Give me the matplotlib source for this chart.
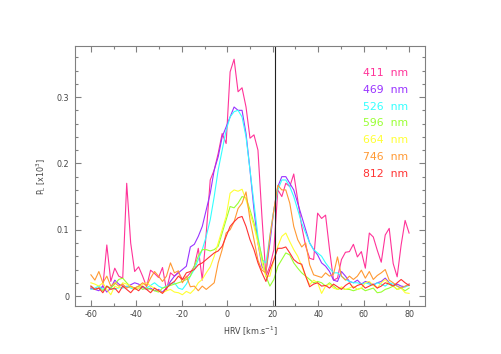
import numpy as np
import matplotlib
matplotlib.use("Agg")
import matplotlib.pyplot as plt
from matplotlib.ticker import MultipleLocator

plt.rcParams['font.family'] = ['DejaVu Sans']
plt.rcParams['axes.unicode_minus'] = False

# HRV grid (km/s)
hrv = np.linspace(-60, 80, 81)

p411 = [0.012, 0.010, 0.012, 0.014, 0.077, 0.022, 0.042, 0.030, 0.027, 0.170,
        0.080, 0.037, 0.044, 0.030, 0.014, 0.039, 0.034, 0.028, 0.043, 0.009,
        0.035, 0.030, 0.036, 0.025, 0.028, 0.035, 0.045, 0.072, 0.024, 0.095,
        0.175, 0.190, 0.215, 0.245, 0.230, 0.338, 0.357, 0.308, 0.314, 0.285,
        0.238, 0.243, 0.220, 0.120, 0.030, 0.045, 0.070, 0.160, 0.150, 0.170,
        0.165, 0.184, 0.145, 0.105, 0.075, 0.057, 0.055, 0.125, 0.117, 0.122,
        0.070, 0.024, 0.027, 0.055, 0.066, 0.067, 0.078, 0.059, 0.067, 0.042,
        0.095, 0.089, 0.069, 0.051, 0.092, 0.102, 0.049, 0.029, 0.077, 0.114,
        0.095]

p469 = [0.012, 0.010, 0.008, 0.015, 0.006, 0.012, 0.024, 0.018, 0.015, 0.014,
        0.017, 0.020, 0.018, 0.013, 0.010, 0.012, 0.008, 0.010, 0.006, 0.012,
        0.022, 0.030, 0.035, 0.040, 0.045, 0.074, 0.078, 0.090, 0.105, 0.130,
        0.155, 0.190, 0.210, 0.240, 0.255, 0.270, 0.285, 0.280, 0.280, 0.245,
        0.190, 0.130, 0.080, 0.045, 0.035, 0.080, 0.130, 0.165, 0.180, 0.180,
        0.170, 0.160, 0.140, 0.120, 0.100, 0.080, 0.070, 0.062, 0.050, 0.045,
        0.037, 0.024, 0.022, 0.037, 0.030, 0.022, 0.020, 0.024, 0.018, 0.022,
        0.020, 0.017, 0.020, 0.022, 0.027, 0.020, 0.015, 0.018, 0.015, 0.014,
        0.018]

p526 = [0.010, 0.012, 0.015, 0.010, 0.014, 0.012, 0.010, 0.013, 0.012, 0.015,
        0.012, 0.010, 0.012, 0.014, 0.012, 0.016, 0.020, 0.015, 0.012, 0.015,
        0.018, 0.020, 0.012, 0.010, 0.018, 0.030, 0.040, 0.055, 0.070, 0.090,
        0.115, 0.150, 0.190, 0.220, 0.250, 0.270, 0.278, 0.280, 0.270, 0.240,
        0.190, 0.140, 0.090, 0.055, 0.050, 0.090, 0.130, 0.160, 0.175, 0.175,
        0.165, 0.150, 0.130, 0.110, 0.095, 0.080, 0.070, 0.065, 0.060, 0.050,
        0.042, 0.035, 0.035, 0.030, 0.025, 0.022, 0.020, 0.020, 0.018, 0.020,
        0.018, 0.016, 0.020, 0.018, 0.015, 0.020, 0.018, 0.015, 0.012, 0.014,
        0.016]

p596 = [0.015, 0.010, 0.012, 0.008, 0.015, 0.012, 0.018, 0.025, 0.027, 0.020,
        0.014, 0.012, 0.015, 0.010, 0.012, 0.010, 0.008, 0.006, 0.012, 0.014,
        0.016, 0.018, 0.020, 0.022, 0.025, 0.030, 0.045, 0.060, 0.070, 0.070,
        0.068, 0.070, 0.075, 0.095, 0.115, 0.135, 0.133, 0.140, 0.150, 0.148,
        0.130, 0.110, 0.085, 0.060, 0.030, 0.015, 0.025, 0.045, 0.055, 0.065,
        0.062, 0.050, 0.042, 0.035, 0.030, 0.025, 0.020, 0.022, 0.020, 0.015,
        0.020, 0.015, 0.010, 0.012, 0.010, 0.010, 0.008, 0.010, 0.012, 0.008,
        0.010, 0.012, 0.005, 0.006, 0.010, 0.012, 0.015, 0.010, 0.012, 0.008,
        0.012]

p664 = [0.020, 0.018, 0.015, 0.020, 0.010, 0.002, 0.015, 0.012, 0.020, 0.018,
        0.015, 0.010, 0.012, 0.018, 0.020, 0.015, 0.012, 0.008, 0.005, 0.008,
        0.010, 0.006, 0.005, 0.002, 0.007, 0.004, 0.010, 0.020, 0.025, 0.035,
        0.044, 0.060, 0.080, 0.100, 0.120, 0.155, 0.160, 0.158, 0.161, 0.145,
        0.125, 0.105, 0.080, 0.050, 0.030, 0.030, 0.055, 0.075, 0.090, 0.095,
        0.082, 0.070, 0.060, 0.045, 0.030, 0.017, 0.024, 0.020, 0.004, 0.015,
        0.018, 0.012, 0.010, 0.014, 0.010, 0.012, 0.015, 0.010, 0.012, 0.020,
        0.022, 0.016, 0.012, 0.020, 0.025, 0.018, 0.015, 0.010, 0.012, 0.005,
        0.004]

p746 = [0.032, 0.024, 0.037, 0.020, 0.030, 0.015, 0.020, 0.015, 0.018, 0.012,
        0.015, 0.012, 0.015, 0.020, 0.015, 0.027, 0.037, 0.030, 0.022, 0.030,
        0.050, 0.035, 0.038, 0.020, 0.030, 0.014, 0.015, 0.008, 0.015, 0.010,
        0.015, 0.020, 0.050, 0.070, 0.095, 0.100, 0.112, 0.132, 0.140, 0.157,
        0.115, 0.085, 0.054, 0.039, 0.035, 0.090, 0.130, 0.167, 0.160, 0.160,
        0.140, 0.105, 0.085, 0.074, 0.080, 0.047, 0.032, 0.030, 0.028, 0.035,
        0.030, 0.033, 0.059, 0.030, 0.024, 0.030, 0.025, 0.030, 0.039, 0.027,
        0.037, 0.025, 0.031, 0.035, 0.040, 0.024, 0.020, 0.015, 0.012, 0.015,
        0.018]

p812 = [0.015, 0.010, 0.012, 0.005, 0.015, 0.010, 0.012, 0.005, 0.015, 0.010,
        0.005, 0.012, 0.008, 0.015, 0.010, 0.005, 0.012, 0.008, 0.004, 0.012,
        0.018, 0.022, 0.030, 0.025, 0.035, 0.037, 0.040, 0.047, 0.050, 0.055,
        0.060, 0.065, 0.068, 0.075, 0.090, 0.105, 0.112, 0.118, 0.120, 0.105,
        0.085, 0.070, 0.050, 0.035, 0.022, 0.040, 0.055, 0.072, 0.072, 0.074,
        0.065, 0.055, 0.050, 0.048, 0.030, 0.014, 0.018, 0.020, 0.015, 0.016,
        0.012, 0.018, 0.014, 0.010, 0.016, 0.020, 0.012, 0.016, 0.018, 0.012,
        0.015, 0.018, 0.012, 0.015, 0.020, 0.018, 0.015, 0.020, 0.025, 0.020,
        0.016]

labels = ["411  nm", "469  nm", "526  nm", "596  nm", "664  nm", "746  nm", "812  nm"]
series = [p411, p469, p526, p596, p664, p746, p812]
colors = ["#ff3399", "#9933ff", "#33ffff", "#99ff33", "#ffff33", "#ff9933", "#ff3333"]
vline_x = 21

fig = plt.figure(figsize=(5.01, 3.54), dpi=100)
ax = fig.add_axes([0.1497, 0.1356, 0.6986, 0.7345])

for ys, c in zip(series, colors):
    ax.plot(hrv, ys, color=c, lw=0.8)

ax.axvline(vline_x, color="#222222", lw=0.8)

ax.set_xlim(-67, 87)
ax.set_ylim(-0.015, 0.377)
ax.xaxis.set_major_locator(MultipleLocator(20))
ax.xaxis.set_minor_locator(MultipleLocator(10))
ax.yaxis.set_major_locator(MultipleLocator(0.1))
ax.yaxis.set_minor_locator(MultipleLocator(0.02))
ax.set_yticks([0, 0.1, 0.2, 0.3])
ax.set_yticklabels(["0", "0.1", "0.2", "0.3"])

gray = "#808080"
for s in ax.spines.values():
    s.set_color(gray)
    s.set_linewidth(0.8)
ax.tick_params(which="both", direction="in", top=True, right=True, color=gray,
               labelsize=5.8, labelcolor="#444444", width=0.8)
ax.tick_params(which="major", length=4)
ax.tick_params(which="minor", length=2.2)
ax.tick_params(axis="x", pad=3)
ax.tick_params(axis="y", pad=4)

ax.set_xlabel("HRV [km.s$^{-1}$]", fontsize=5.8, color="#444444", labelpad=4)
ax.set_ylabel("P$_\\mathrm{L}$ [x10$^3$]", fontsize=5.8, color="#444444", labelpad=6)

for k, (lab, c) in enumerate(zip(labels, colors)):
    ax.text(0.823, 0.896 - k * 0.0645, lab, transform=ax.transAxes, color=c,
            fontsize=7.8, va="center", ha="left")

fig.savefig("out.png", dpi=100)
